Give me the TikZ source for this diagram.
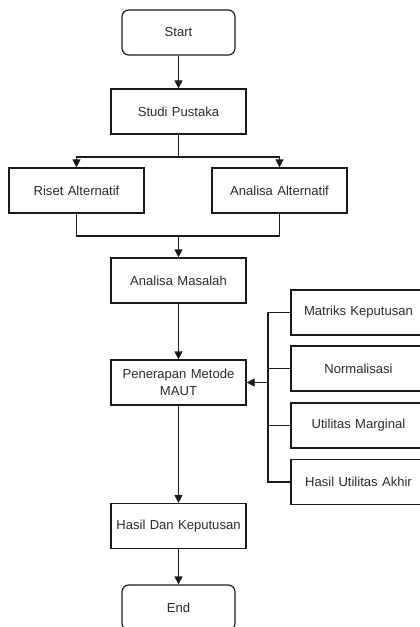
\documentclass[tikz,border=0pt]{standalone}
\usepackage{fontspec}
\setmainfont{Liberation Sans}
\usetikzlibrary{arrows.meta,positioning}
\definecolor{lineGray}{HTML}{1A1A1A}
\definecolor{textGray}{HTML}{2B2B2B}

\begin{document}
\begin{tikzpicture}[x=0.75pt,y=-0.75pt,
  font=\fontsize{9.8}{12.8}\selectfont,
  box/.style={draw=lineGray,line width=0.9pt,fill=white,text=textGray,
    minimum width=101.25pt,minimum height=33.75pt,inner sep=1pt,align=center,
    text width=99pt},
  term/.style={box,rounded corners=5pt,minimum width=84.75pt},
  arr/.style={draw=lineGray,line width=0.9pt,-{Triangle[length=6pt,width=6pt]}},
  ln/.style={draw=lineGray,line width=0.9pt}]
  \useasboundingbox (0,0) rectangle (420,627);
  % main column
  \node[term,text width=80pt] (start) at (178.5,32.5) {Start};
  \node[box] (studi) at (178.5,111.5) {Studi Pustaka};
  \node[box] (riset) at (76.5,190.5) {Riset Alternatif};
  \node[box] (analt) at (279.5,190.5) {Analisa Alternatif};
  \node[box] (masalah) at (178.5,280.5) {Analisa Masalah};
  \node[box] (maut) at (178.5,382.5) {Penerapan Metode\\MAUT};
  \node[box] (hasil) at (178.5,526) {Hasil Dan Keputusan};
  \node[term,text width=80pt] (end) at (178.5,607.5) {End};
  % MAUT steps
  \node[box] (matriks) at (358.5,312.5) {Matriks Keputusan};
  \node[box] (norm) at (358.5,368.5) {Normalisasi};
  \node[box] (util) at (358.5,425.5) {Utilitas Marginal};
  \node[box] (akhir) at (358.5,482) {Hasil Utilitas Akhir};
  \coordinate (split) at (178.5,157);
  \coordinate (join) at (178.5,236);
  \coordinate (bus) at (268,382.5);
  \draw[arr] (start) -- (studi);
  \draw[ln] (studi.south) -- (split);
  \draw[arr] (split) -| (riset.north);
  \draw[arr] (split) -| (analt.north);
  \draw[ln] (riset.south) |- (join) -| (analt.south);
  \draw[arr] (join) -- (masalah.north);
  \draw[arr] (masalah) -- (maut);
  \draw[arr] (maut) -- (hasil);
  \draw[arr] (hasil) -- (end);
  \draw[ln] (matriks.west) -| (bus |- akhir.west) -- (akhir.west);
  \draw[ln] (norm.west) -- (norm.west -| bus);
  \draw[ln] (util.west) -- (util.west -| bus);
  \draw[arr] (bus) -- (maut.east);
\end{tikzpicture}
\end{document}
